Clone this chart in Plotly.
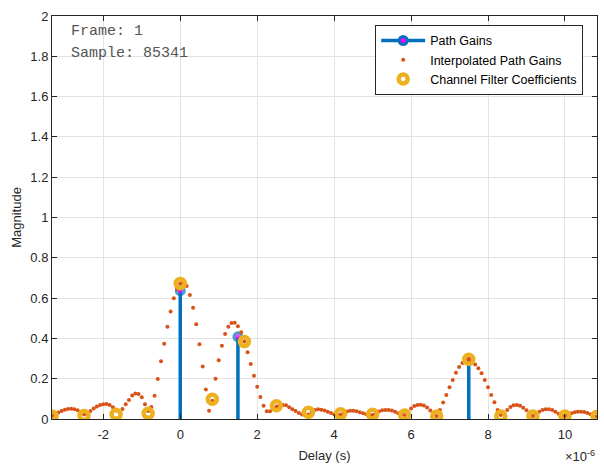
import plotly.graph_objects as go

# ---------------- data ----------------
path_delays = [0.0, 1.5e-6, 7.5e-6]
path_gains = [0.637, 0.408, 0.294]

sample_period = 1 / 1.2e6          # channel filter sample spacing (s)
first_coeff_index = -4
coeff_values = [0.015, 0.017, 0.023, 0.028, 0.673, 0.098, 0.384, 0.066, 0.033,
                0.026, 0.023, 0.020, 0.015, 0.296, 0.015, 0.015, 0.015, 0.014]

interp_oversample = 10
interp_values = [
    0.015, 0.022, 0.032, 0.040, 0.046, 0.050, 0.051, 0.049, 0.043, 0.033,
    0.022, 0.026, 0.040, 0.052, 0.062, 0.069, 0.073, 0.074, 0.070, 0.058,
    0.042, 0.035, 0.050, 0.073, 0.094, 0.117, 0.126, 0.124, 0.108, 0.073,
    0.040, 0.060, 0.116, 0.199, 0.286, 0.374, 0.458, 0.534, 0.599, 0.645,
    0.672, 0.678, 0.660, 0.615, 0.552, 0.470, 0.371, 0.260, 0.147, 0.041,
    0.090, 0.200, 0.291, 0.364, 0.422, 0.458, 0.476, 0.478, 0.460, 0.430,
    0.385, 0.331, 0.273, 0.215, 0.160, 0.109, 0.066, 0.039, 0.039, 0.050,
    0.062, 0.068, 0.070, 0.068, 0.058, 0.048, 0.040, 0.030, 0.022, 0.018,
    0.022, 0.035, 0.045, 0.048, 0.046, 0.042, 0.036, 0.030, 0.024, 0.020,
    0.022, 0.030, 0.037, 0.041, 0.041, 0.038, 0.034, 0.029, 0.023, 0.019,
    0.020, 0.028, 0.037, 0.043, 0.045, 0.045, 0.042, 0.036, 0.029, 0.022,
    0.020, 0.035, 0.052, 0.064, 0.070, 0.071, 0.067, 0.057, 0.042, 0.025,
    0.015, 0.045, 0.082, 0.119, 0.157, 0.194, 0.230, 0.258, 0.278, 0.290,
    0.296, 0.290, 0.271, 0.252, 0.227, 0.194, 0.157, 0.119, 0.083, 0.045,
    0.020, 0.030, 0.045, 0.060, 0.068, 0.069, 0.066, 0.056, 0.043, 0.028,
    0.015, 0.025, 0.036, 0.045, 0.048, 0.048, 0.045, 0.036, 0.026, 0.018,
    0.015, 0.020, 0.028, 0.033, 0.036, 0.036, 0.035, 0.030, 0.023, 0.016,
    0.012,
]

x_tick_labels = ["-2", "0", "2", "4", "6", "8", "10"]
x_tick_scale = 1e-6
y_tick_labels = ["0", "0.2", "0.4", "0.6", "0.8", "1", "1.2", "1.4", "1.6", "1.8", "2"]

frame_number = 1
sample_number = 85341

# ---------------- derived positions ----------------
coeff_times = [(first_coeff_index + k) * sample_period for k in range(len(coeff_values))]
interp_step = sample_period / interp_oversample
interp_times = [coeff_times[0] + i * interp_step for i in range(len(interp_values))]

stem_x, stem_y, stem_size = [], [], []
for d, g in zip(path_delays, path_gains):
    stem_x += [d, d, None]
    stem_y += [0, g, None]
    stem_size += [0, 8, 0]

BLUE = "#0072BD"
ORANGE = "#D95319"
YELLOW = "#EDB120"
AX = "#262626"
FONT = "Liberation Sans, Arial, sans-serif"
MONO = "Liberation Mono, Courier New, monospace"

fig = go.Figure()

# stems
fig.add_trace(go.Scatter(
    x=stem_x, y=stem_y, mode="lines+markers", showlegend=False,
    line=dict(color=BLUE, width=3.5),
    marker=dict(size=stem_size, color="#FF00FF", line=dict(color=BLUE, width=3)),
    hoverinfo="skip"))
# legend proxy for path gains
fig.add_trace(go.Scatter(
    x=[None], y=[None], mode="lines+markers", name="Path Gains",
    line=dict(color=BLUE, width=3.5),
    marker=dict(size=8, color="#FF00FF", line=dict(color=BLUE, width=3))))

fig.add_trace(go.Scatter(
    x=interp_times, y=interp_values, mode="markers", name="Interpolated Path Gains",
    marker=dict(size=4, color=ORANGE)))

fig.add_trace(go.Scatter(
    x=coeff_times, y=coeff_values, mode="markers", name="Channel Filter Coefficients",
    marker=dict(symbol="circle-open", size=9, color=YELLOW,
                line=dict(color=YELLOW, width=4.5))))

x_tick_vals = [float(t) * x_tick_scale for t in x_tick_labels]
y_tick_vals = [float(t) for t in y_tick_labels]

axis_common = dict(
    showline=True, linecolor=AX, linewidth=1, mirror="ticks",
    ticks="inside", ticklen=5, tickcolor=AX,
    showgrid=True, gridcolor="#E3E3E3", gridwidth=1,
    zeroline=False, automargin=False,
    tickfont=dict(family=FONT, size=13, color=AX),
)

fig.update_layout(
    width=604, height=465,
    margin=dict(l=52, r=7, t=16, b=46),
    paper_bgcolor="white", plot_bgcolor="white",
    font=dict(family=FONT, size=13, color=AX),
    xaxis=dict(range=[coeff_times[0], coeff_times[-1]],
               tickvals=x_tick_vals, ticktext=x_tick_labels, ticklabelstandoff=3,
               title=dict(text="Delay (s)", font=dict(size=13, color=AX), standoff=10),
               **axis_common),
    yaxis=dict(range=[0, 2], tickvals=y_tick_vals, ticktext=y_tick_labels,
               title=dict(text="Magnitude", font=dict(size=13, color=AX), standoff=5),
               **axis_common),
    legend=dict(x=0.593, y=0.978, xanchor="left", yanchor="top",
                bgcolor="white", bordercolor=AX, borderwidth=1,
                font=dict(family=FONT, size=12.5, color="black"),
                tracegroupgap=0, itemwidth=44),
    showlegend=True,
)

fig.add_annotation(text="×10<sup>-6</sup>", xref="paper", yref="paper",
                   x=1.0, y=-0.092, xanchor="right", yanchor="middle",
                   showarrow=False, font=dict(family=FONT, size=13, color=AX))
fig.add_annotation(text=f"Frame: {frame_number}", xref="paper", yref="paper",
                   x=0.031, y=0.961, xanchor="left", yanchor="middle",
                   showarrow=False, font=dict(family=MONO, size=15, color="#555555"))
fig.add_annotation(text=f"Sample: {sample_number}", xref="paper", yref="paper",
                   x=0.031, y=0.906, xanchor="left", yanchor="middle",
                   showarrow=False, font=dict(family=MONO, size=15, color="#555555"))

fig.write_html("out.html")
